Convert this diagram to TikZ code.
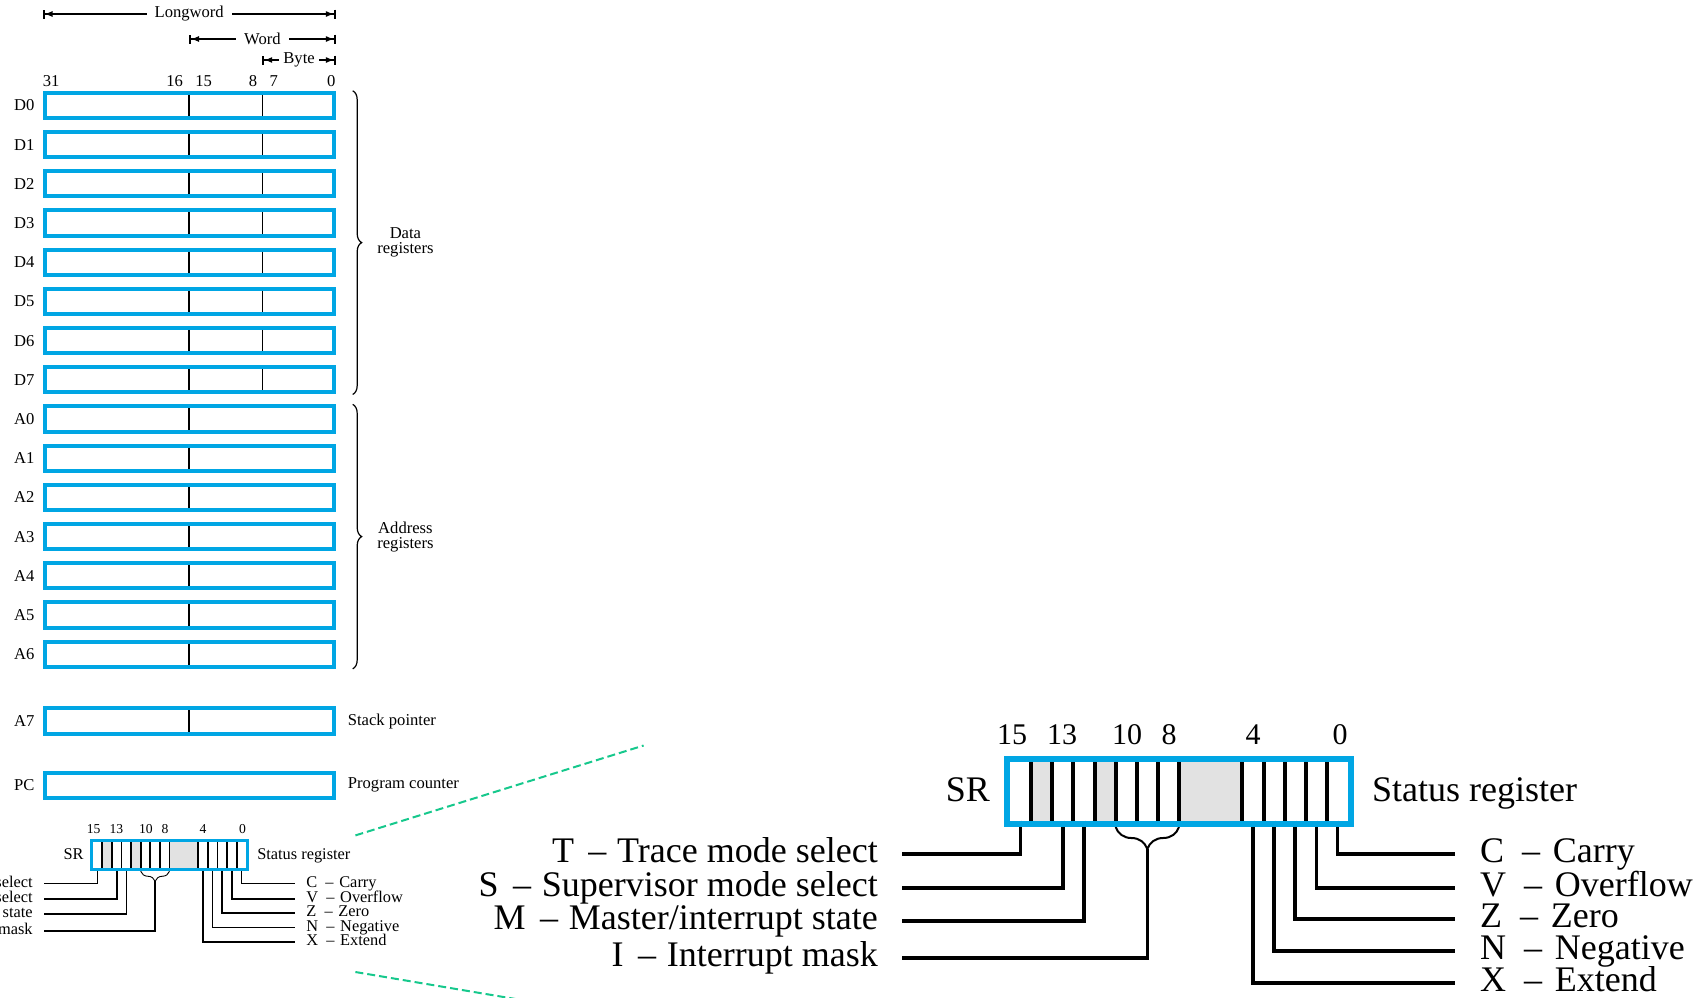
\documentclass[tikz,border=0pt]{standalone}
\usepackage{fontspec}
\setmainfont{Liberation Serif}
\usetikzlibrary{arrows.meta,positioning,calc,decorations.pathreplacing}
\definecolor{regblue}{RGB}{0,166,228}
\definecolor{zoomgreen}{RGB}{22,200,140}
\definecolor{unused}{RGB}{226,226,226}
\newcommand{\regfont}{\fontsize{16.6}{15}\selectfont}
\newcommand{\srk}{1}
\newcommand{\bitx}[1]{(6+(#1)*21.125)}
\newcommand{\ldash}{\hspace{.4em}--\hspace{.3em}}
\newcommand{\rdash}{\hspace{.5em}--\hspace{.35em}}
% status register at unit size, \srk scales the line widths
\newcommand{\statusreg}{%
  \fill[unused] ({\bitx{1}},6) rectangle ({\bitx{2}},64.7);
  \fill[unused] ({\bitx{4}},6) rectangle ({\bitx{5}},64.7);
  \fill[unused] ({\bitx{8}},6) rectangle ({\bitx{11}},64.7);
  \foreach \k in {1,...,8,11,12,13,14,15}
    \draw[srbit] ({\bitx{\k}},6) -- ({\bitx{\k}},64.7);
  \foreach \j in {0,...,15}
    \coordinate (b\j) at ({\bitx{15.5-\j}},64.7);
  \coordinate (itip) at ({\bitx{6.5}},93);
  \node[srnum] (n15) at (8,-21) {15};
  \node[srnum] (n13) at (58,-21) {13};
  \node[srnum] (n10) at (123,-21) {10};
  \node[srnum] (n8) at (165,-21) {8};
  \node[srnum] (n4) at (249,-21) {4};
  \node[srnum] (n0) at (336,-21) {0};
  \node[srlbl,anchor=east,inner xsep=0pt] (name) at (-14,37) {SR};
  \node[srlbl,anchor=west,inner xsep=0pt] (title) at (368,37) {Status register};
  \node[srleft] (T) at (-102,98) {T\ldash Trace mode select};
  \node[srleft] (S) at (-102,132) {S\ldash Supervisor mode select};
  \node[srleft] (M) at (-102,165) {M\ldash Master/interrupt state};
  \node[srleft] (I) at (-102,202) {I\ldash Interrupt mask};
  \node[srright] (C) at (451,98) {C\rdash Carry};
  \node[srright] (V) at (451,132) {V\rdash Overflow};
  \node[srright] (Z) at (451,163) {Z\rdash Zero};
  \node[srright] (N) at (451,195) {N\rdash Negative};
  \node[srright] (X) at (451,227) {X\rdash Extend};
  \draw[srbrace] ({\bitx{8}},71) -- ({\bitx{5}},71);
  \draw[srlead] (b15) |- (T.east);
  \draw[srlead] (b13) |- (S.east);
  \draw[srlead] (b12) |- (M.east);
  \draw[srlead] (itip) |- (I.east);
  \draw[srlead] (b0) |- (C.west);
  \draw[srlead] (b1) |- (V.west);
  \draw[srlead] (b2) |- (Z.west);
  \draw[srlead] (b3) |- (N.west);
  \draw[srlead] (b4) |- (X.west);
  \draw[srframe] (3,3) rectangle (347,67.7);
}

\begin{document}
\begin{tikzpicture}[x=1pt,y=-1pt,
reg/.style={draw=regblue,line width=4pt,minimum width=289pt,minimum height=25.3pt,inner sep=0pt},
reglbl/.style={font=\regfont,inner sep=0pt,text height=11pt,text depth=0pt},
sidelbl/.style={font=\regfont,inner sep=0pt},
bitno/.style={font=\regfont,inner xsep=0pt,inner ysep=4pt},
divider/.style={line width=1.5pt,shorten <=4pt,shorten >=4pt},
dim/.style={line width=1.2pt,{Bar[width=9pt,line width=1.8pt]Latex[length=8pt,width=6pt]}-{Latex[length=8pt,width=6pt]Bar[width=9pt,line width=1.8pt]}},
dimlbl/.style={font=\regfont,fill=white,inner xsep=8pt,inner ysep=1pt},
regbrace/.style={decorate,decoration={brace,amplitude=9pt},line width=1.2pt},
bracelbl/.style={font=\regfont,align=center,inner sep=0pt,midway,right=24pt},
zoomline/.style={draw=zoomgreen,line width=2pt,dash pattern=on 8pt off 4pt},
srbit/.style={line width=\srk*4pt},
srlead/.style={line width=\srk*3.5pt},
srframe/.style={draw=regblue,line width=\srk*6pt},
srbrace/.style={decorate,decoration={brace,amplitude=\srk*22pt},line width=\srk*2pt},
srnum/.style={font=\fontsize{30}{34}\selectfont,inner sep=0pt},
srlbl/.style={font=\fontsize{36}{40}\selectfont,text height=24pt,text depth=8pt,inner ysep=0pt},
srleft/.style={srlbl,anchor=east,inner xsep=24pt},
srright/.style={srlbl,anchor=west,inner xsep=25pt}]
\useasboundingbox (0,0) rectangle (1699,997);
\clip (0,0) rectangle (1699,997);

% data registers
\foreach \i in {0,...,7} {
  \node[reg] (D\i) at (189.2,{105.4+39.2*\i}) {};
  \node[reglbl,left=8pt of D\i] (lD\i) {D\i};
  \draw[divider] (D\i.north) -- (D\i.south);
  \draw[divider] ($(D\i.north)!.5!(D\i.north east)$) -- ($(D\i.south)!.5!(D\i.south east)$);
}
% address registers
\foreach \i in {0,...,6} {
  \node[reg] (A\i) at (189.2,{418.99+39.2*\i}) {};
  \node[reglbl,left=8pt of A\i] (lA\i) {A\i};
  \draw[divider] (A\i.north) -- (A\i.south);
}
\node[reg] (A7) at (189.2,721) {};
\node[reglbl,left=8pt of A7] (lA7) {A7};
\draw[divider] (A7.north) -- (A7.south);
\node[sidelbl,right=12pt of A7] (sp) {Stack pointer};
\node[reg] (PC) at (189.2,785.3) {};
\node[reglbl,left=8pt of PC] (lPC) {PC};
\node[sidelbl,right=12pt of PC] (pcl) {Program counter};

% bit numbers
\node[bitno,anchor=south west] (n31) at (D0.north west) {31};
\node[bitno,anchor=south east] (n16) at ([xshift=-6pt]D0.north) {16};
\node[bitno,anchor=south west] (n15) at ([xshift=6pt]D0.north) {15};
\node[bitno,anchor=south east] (n8) at ([xshift=-5pt]$(D0.north)!.5!(D0.north east)$) {8};
\node[bitno,anchor=south west] (n7) at ([xshift=7pt]$(D0.north)!.5!(D0.north east)$) {7};
\node[bitno,anchor=south east] (n0) at (D0.north east) {0};

% operand sizes
\coordinate (lwL) at (42.7,14);
\coordinate (lwR) at (335.7,14);
\coordinate (wL) at (189.2,39);
\coordinate (wR) at (335.7,39);
\coordinate (bL) at (262.4,60);
\coordinate (bR) at (335.7,60);
\draw[dim] (lwL) -- node[dimlbl] (lwt) {Longword} (lwR);
\draw[dim] (wL) -- node[dimlbl] (wt) {Word} (wR);
\draw[dim] (bL) -- node[dimlbl,inner xsep=4pt] (bt) {Byte} (bR);

\draw[regbrace] ([xshift=17pt]D0.north east) -- node[bracelbl] (datalbl) {Data\\registers} ([xshift=17pt]D7.south east);
\draw[regbrace] ([xshift=17pt]A0.north east) -- node[bracelbl] (addrlbl) {Address\\registers} ([xshift=17pt]A6.south east);

% zoom lines
\coordinate (zu1) at (355.4,835.4);
\coordinate (zu2) at (643.6,745.5);
\coordinate (zl1) at (355.4,972);
\coordinate (zl2) at (560,1006.5);
\draw[zoomline] (zu1) -- (zu2);
\draw[zoomline] (zl1) -- (zl2);

% status register, enlarged and small
\begin{scope}[shift={(1004,756)},name prefix=big-]
  \statusreg
\end{scope}
\begin{scope}[shift={(90,839)},scale=0.4543,transform shape,name prefix=small-]
  \renewcommand{\srk}{0.4543}
  \statusreg
\end{scope}
\end{tikzpicture}
\end{document}
